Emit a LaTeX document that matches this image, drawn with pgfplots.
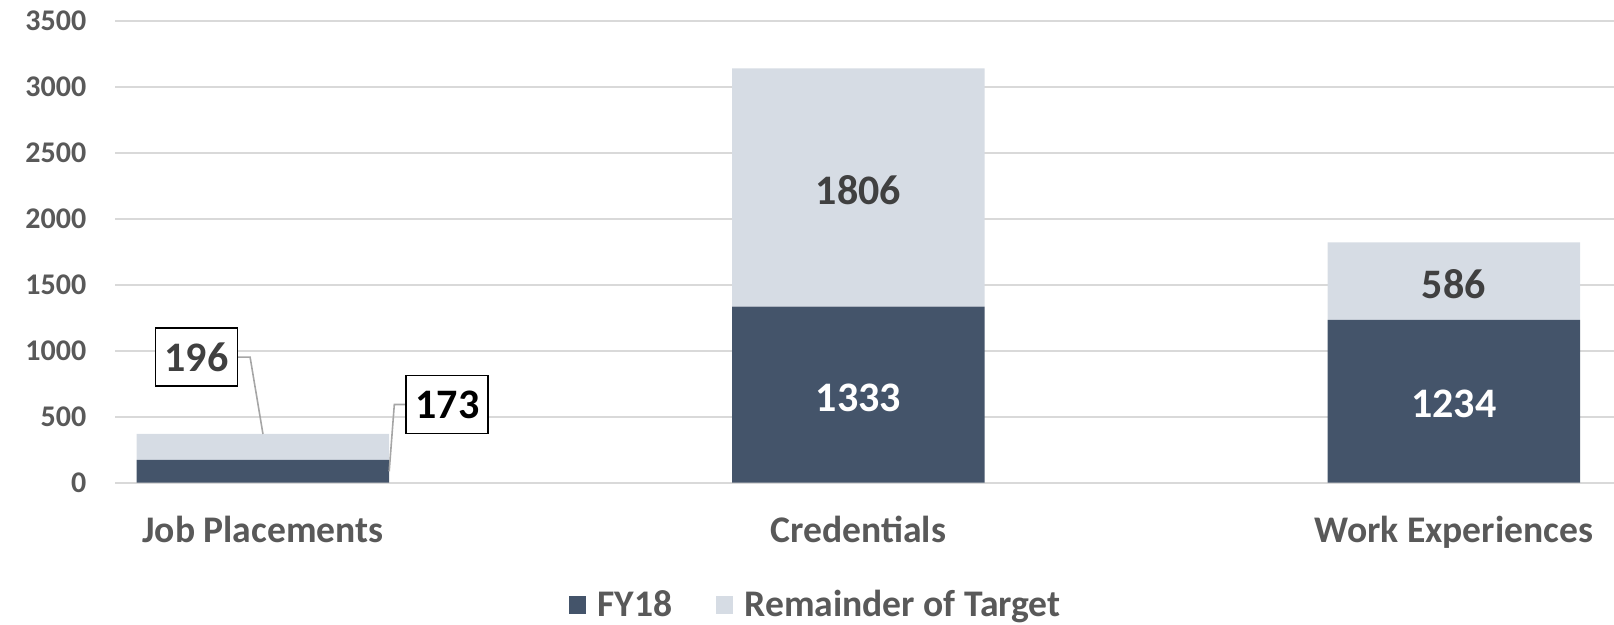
\documentclass[border=0pt]{standalone}
\usepackage{pgfplots}
\pgfplotsset{compat=1.18}
\usepackage{fontspec}
\setmainfont{Carlito}
\definecolor{dark}{HTML}{44546A}
\definecolor{light}{HTML}{D6DCE4}
\definecolor{txt}{HTML}{595959}
\definecolor{lbl}{HTML}{404040}
\definecolor{gridc}{HTML}{D9D9D9}
\definecolor{leader}{HTML}{A6A6A6}
\begin{document}
\begin{tikzpicture}
\begin{axis}[
  scale only axis, width=749.35pt, height=231pt,
  ybar stacked, bar width=0.424,
  xmin=-0.248, xmax=2.269, ymin=0, ymax=3500,
  ytick={0,500,...,3500},
  xtick={0,1,2}, xticklabels={Job Placements, Credentials, Work Experiences},
  axis line style={draw=none}, major tick length=0pt,
  ymajorgrids, grid style={gridc, line width=1pt},
  yticklabel style={font=\fontsize{15}{18}\selectfont\bfseries, text=txt, xshift=-11pt},
  xticklabel style={font=\fontsize{18.8}{22}\selectfont\bfseries, text=txt, yshift=-13pt},
  /pgf/number format/assume math mode=true,
  /pgf/number format/1000 sep={},
  clip=false,
  legend columns=2,
  legend style={at={(0.468,-0.2647)}, anchor=center, draw=none, fill=none,
    font=\fontsize{18.8}{22}\selectfont\bfseries, text=txt,
    /tikz/every even column/.append style={column sep=19.5pt}},
  legend image code/.code={\draw[#1,draw=none] (0pt,-4.5pt) rectangle (8.5pt,4.5pt); \path (12.5pt,0pt);},
]
\addplot[fill=dark, draw=none] coordinates {(0,173) (1,1333) (2,1234)};
\addlegendentry{FY18}
\addplot[fill=light, draw=none] coordinates {(0,196) (1,1806) (2,586)};
\addlegendentry{Remainder of Target}

\coordinate (L1) at (axis cs:1,646);
\coordinate (L2) at (axis cs:1,2216);
\coordinate (L3) at (axis cs:2,597);
\coordinate (L4) at (axis cs:2,1507);
\coordinate (A1) at (axis cs:-0.0424,951);
\coordinate (A2) at (axis cs:-0.0216,951);
\coordinate (A3) at (axis cs:0,369);
\coordinate (B1) at (axis cs:0.2413,592);
\coordinate (B2) at (axis cs:0.2206,592);
\coordinate (B3) at (axis cs:0.212,86);
\coordinate (C1) at (axis cs:-0.1116,951);
\coordinate (C2) at (axis cs:0.3097,592);
\end{axis}
\node[text=white, font=\fontsize{21}{24}\selectfont\bfseries] at (L1) {1333};
\node[text=lbl, font=\fontsize{21}{24}\selectfont\bfseries] at (L2) {1806};
\node[text=white, font=\fontsize{21}{24}\selectfont\bfseries] at (L3) {1234};
\node[text=lbl, font=\fontsize{21}{24}\selectfont\bfseries] at (L4) {586};
\draw[leader, line width=0.8pt] (A1) -- (A2) -- (A3);
\draw[leader, line width=0.8pt] (B1) -- (B2) -- (B3);
\node[draw=black, line width=0.9pt, fill=white, text=lbl, minimum width=41pt, minimum height=29pt, inner sep=0pt,
  font=\fontsize{21}{24}\selectfont\bfseries] at (C1) {196};
\node[draw=black, line width=0.9pt, fill=white, text=black, minimum width=41pt, minimum height=29pt, inner sep=0pt,
  font=\fontsize{21}{24}\selectfont\bfseries] at (C2) {173};
\pgfresetboundingbox
\path (-57.65pt,-71.15pt) rectangle (749.35pt,241.35pt);
\end{tikzpicture}
\end{document}
